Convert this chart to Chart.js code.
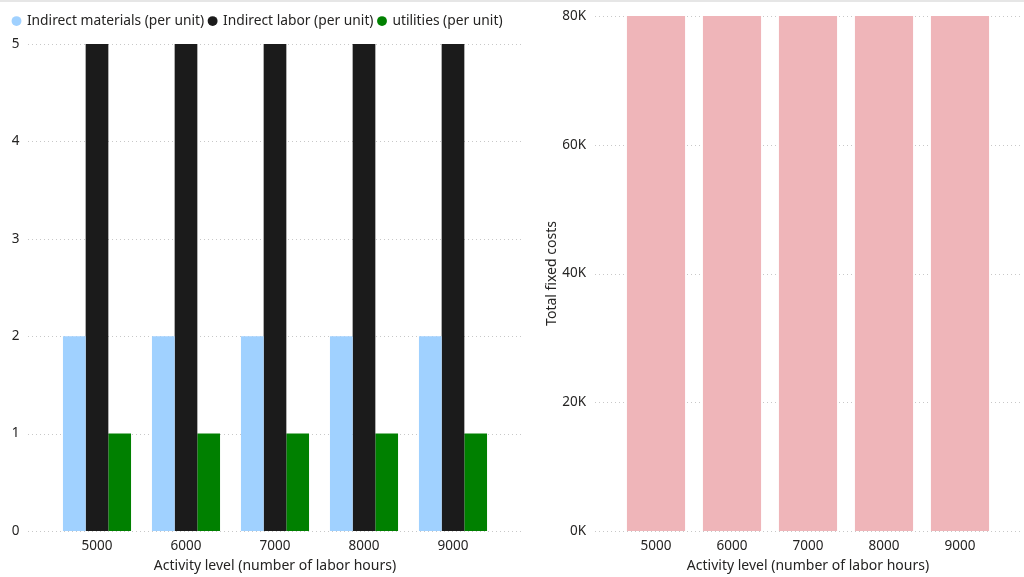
<!DOCTYPE html>
<html>
<head>
<meta charset="utf-8">
<script src="https://cdn.jsdelivr.net/npm/chart.js@4"></script>
<style>
    html, body { margin: 0; padding: 0; background: #fff; }
    body { width: 1024px; height: 577px; position: relative; overflow: hidden; }
    #topLine { position: absolute; left: 0; top: 0; width: 1024px; height: 2px; background: #e6e6e6; z-index: 2; }
    #leftBox { position: absolute; left: 0; top: 0; width: 525px; height: 577px; }
    #rightBox { position: absolute; left: 525px; top: 0; width: 499px; height: 577px; }
</style>
</head>
<body>
<div id="topLine"></div>
<div id="leftBox"><canvas id="unitChart"></canvas></div>
<div id="rightBox"><canvas id="fixedChart"></canvas></div>
<script>
// Data
const activityLevels = ['5000', '6000', '7000', '8000', '9000'];
const indirectMaterials = [2, 2, 2, 2, 2];
const indirectLabor = [5, 5, 5, 5, 5];
const utilities = [1, 1, 1, 1, 1];
const totalFixedCosts = [80000, 80000, 80000, 80000, 80000];

const fontFamily = "'Noto Sans', 'Open Sans', sans-serif";
const textColor = '#252423';

Chart.defaults.font.family = fontFamily;
Chart.defaults.color = textColor;
Chart.defaults.animation = false;
Chart.defaults.responsive = false;

// Dotted horizontal gridlines that run a little past the category area (Power BI style)
const dottedGrid = {
    id: 'dottedGrid',
    beforeDatasetsDraw(chart, args, opts) {
        const ctx = chart.ctx;
        const y = chart.scales.y;
        ctx.save();
        ctx.strokeStyle = '#c8c8c8';
        ctx.lineWidth = 1;
        ctx.setLineDash([1, 3]);
        y.ticks.forEach((t, i) => {
            const py = Math.round(y.getPixelForTick(i)) + 0.5;
            ctx.beginPath();
            ctx.moveTo(opts.left, py);
            ctx.lineTo(opts.right, py);
            ctx.stroke();
        });
        ctx.restore();
    }
};

// Adds some empty space under the legend
const legendGap = {
    id: 'legendGap',
    beforeLayout(chart, args, opts) {
        const legend = chart.legend;
        if (legend && !legend._gapPatched) {
            const fit = legend.fit;
            legend.fit = function() {
                fit.call(this);
                this.height += opts.gap;
            };
            legend._gapPatched = true;
        }
    }
};

function makeCanvas(id, w, h) {
    const c = document.getElementById(id);
    c.width = w;
    c.height = h;
    c.style.width = w + 'px';
    c.style.height = h + 'px';
    return c;
}

// shared x axis settings; rightGap pushes the plot area in from the right edge
function xAxis(rightGap) {
    return {
        grid: { display: false, drawTicks: false },
        border: { display: false },
        ticks: { font: { size: 13.5 }, color: textColor, padding: 7 },
        title: { display: true, text: 'Activity level (number of labor hours)', font: { size: 14 }, color: textColor, padding: { top: 4, bottom: 0 } },
        afterFit(scale) {
            scale.height = 43;
            scale.paddingRight = rightGap;
        }
    };
}

// Left chart: per unit costs
new Chart(makeCanvas('unitChart', 525, 577), {
    type: 'bar',
    data: {
        labels: activityLevels,
        datasets: [
            { label: 'Indirect materials (per unit)', data: indirectMaterials, backgroundColor: '#a0d1ff' },
            { label: 'Indirect labor (per unit)', data: indirectLabor, backgroundColor: '#1b1b1b' },
            { label: 'utilities (per unit)', data: utilities, backgroundColor: '#008000' }
        ]
    },
    plugins: [dottedGrid, legendGap],
    options: {
        devicePixelRatio: 1,
        layout: { padding: { left: 8, right: 0, top: 0, bottom: 3 } },
        datasets: { bar: { categoryPercentage: 0.765, barPercentage: 1 } },
        plugins: {
            dottedGrid: { left: 28, right: 522 },
            legendGap: { gap: 6 },
            tooltip: { enabled: false },
            legend: {
                position: 'top',
                align: 'start',
                labels: {
                    usePointStyle: true,
                    pointStyle: 'circle',
                    boxWidth: 7,
                    boxHeight: 7,
                    padding: 5,
                    color: textColor,
                    font: { size: 13.8 }
                }
            }
        },
        scales: {
            x: xAxis(27.5),
            y: {
                min: 0,
                max: 5,
                grid: { display: false, drawTicks: false },
                border: { display: false },
                ticks: { stepSize: 1, font: { size: 13.5 }, color: textColor, crossAlign: 'center', padding: 33 },
                afterFit(scale) {
                    scale.width = 44.5;
                    scale.paddingTop = 44;
                    scale.paddingBottom = 0;
                }
            }
        }
    }
});

// Right chart: total fixed costs
new Chart(makeCanvas('fixedChart', 499, 577), {
    type: 'bar',
    data: {
        labels: activityLevels,
        datasets: [
            { label: 'Total fixed costs', data: totalFixedCosts, backgroundColor: '#efb5b9' }
        ]
    },
    plugins: [dottedGrid],
    options: {
        devicePixelRatio: 1,
        layout: { padding: { left: 19, right: 0, top: 16, bottom: 3 } },
        datasets: { bar: { categoryPercentage: 0.765, barPercentage: 1 } },
        plugins: {
            dottedGrid: { left: 70, right: 495 },
            tooltip: { enabled: false },
            legend: { display: false }
        },
        scales: {
            x: xAxis(26),
            y: {
                min: 0,
                max: 80000,
                grid: { display: false, drawTicks: false },
                border: { display: false },
                ticks: {
                    stepSize: 20000,
                    font: { size: 13.5 },
                    color: textColor,
                    padding: 32,
                    callback: v => (v / 1000) + 'K'
                },
                title: { display: true, text: 'Total fixed costs', font: { size: 14 }, color: textColor, padding: { top: 0, bottom: 0 } },
                afterFit(scale) {
                    scale.width = 74;
                    scale.paddingTop = 0;
                    scale.paddingBottom = 0;
                }
            }
        }
    }
});
</script>
</body>
</html>
